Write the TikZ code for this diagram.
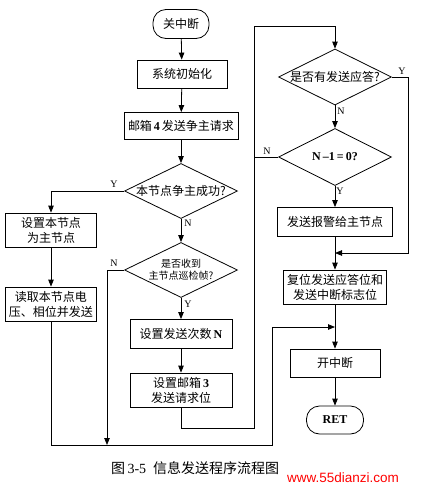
\documentclass[tikz,border=0pt]{standalone}
\usepackage{fontspec}
\setmainfont{Liberation Serif}
\newfontfamily\cjk{Noto Sans CJK SC}
\newfontfamily\wmfont{Liberation Sans}
\usetikzlibrary{shapes.geometric,arrows.meta}
\begin{document}
\begin{tikzpicture}[x=1pt,y=-1pt,
 every node/.style={font=\cjk\fontsize{12}{15}\selectfont, inner sep=0pt, align=center},
 procbox/.style={draw, rectangle, line width=0.8pt},
 term/.style={draw, rectangle, rounded corners=13pt, line width=0.8pt},
 decide/.style={draw, diamond, line width=0.8pt},
 arr/.style={-{Triangle[length=7pt,width=5.5pt]}, line width=0.8pt},
 ln/.style={line width=0.8pt},
 yn/.style={font=\rmfamily\fontsize{10}{12}\selectfont}
]
\useasboundingbox[fill=white] (0,0) rectangle (423,491);

% left column
\node[term, minimum width=56pt, minimum height=29pt] (start) at (181,24) {关中断};
\node[procbox, minimum width=90pt, minimum height=28pt] (init) at (182,74) {系统初始化};
\node[procbox, minimum width=114pt, minimum height=27pt] (req) at (181,126) {邮箱{\rmfamily\bfseries\,4\,}发送争主请求};
\node[decide, minimum width=113pt, minimum height=55pt] (d1) at (181,191) {};
\node (d1t) at (d1) {本节点争主成功?};
\node[procbox, minimum width=91pt, minimum height=34pt] (master) at (51,230) {设置本节点\\为主节点};
\node[procbox, minimum width=91pt, minimum height=34pt] (read) at (51,304) {读取本节点电\\压、相位并发送};
\node[decide, minimum width=113pt, minimum height=55pt] (d2) at (181,270) {};
\node[font=\cjk\fontsize{10}{12}\selectfont] (d2t) at (d2) {是否收到\\主节点巡检帧?};
\node[procbox, minimum width=102pt, minimum height=29pt] (setN) at (181,334) {设置发送次数{\rmfamily\bfseries\,N}};
\node[procbox, minimum width=102pt, minimum height=34pt] (mb3) at (181,390) {设置邮箱{\rmfamily\bfseries\,3}\\发送请求位};

% right column
\node[decide, minimum width=113pt, minimum height=56pt] (d3) at (335,77) {};
\node (d3t) at (d3) {是否有发送应答?};
\node[decide, minimum width=113pt, minimum height=57pt] (d4) at (335,157) {};
\node[font=\rmfamily\bfseries\fontsize{12}{14}\selectfont] (d4t) at (d4) {N\,–1\,=\,0?};
\node[procbox, minimum width=115pt, minimum height=29pt] (alarm) at (335,222) {发送报警给主节点};
\node[procbox, minimum width=103pt, minimum height=34pt] (reset) at (335,287) {复位发送应答位和\\发送中断标志位};
\node[procbox, minimum width=90pt, minimum height=28pt] (open) at (335,363) {开中断};
\node[term, minimum width=57pt, minimum height=28pt, font=\rmfamily\bfseries\fontsize{12}{14}\selectfont] (ret) at (335,420) {RET};

% junction coordinates
\coordinate (jY) at (51,191);
\coordinate (jN2a) at (107,270);
\coordinate (jN2b) at (107,445);
\coordinate (lb1) at (181,428);
\coordinate (lb2) at (254,428);
\coordinate (lt1) at (254,26);
\coordinate (lt2) at (335,26);
\coordinate (jN4) at (254,157);
\coordinate (ry1) at (408,77);
\coordinate (ry2) at (408,253);
\coordinate (ry3) at (335,253);
\coordinate (bb1) at (51,445);
\coordinate (bb2) at (272,445);
\coordinate (bb3) at (272,327);
\coordinate (bb4) at (335,327);

% connectors
\draw[arr] (start) -- (init);
\draw[arr] (init) -- (req);
\draw[arr] (req) -- (d1.north);
\draw[arr] (d1.west) -- (jY) -- (master.north);
\node[yn] (lY1) at (114,184) {Y};
\draw[arr] (master) -- (read);
\draw[arr] (d1.south) -- (d2.north);
\node[yn] (lN1) at (188,223) {N};
\draw[arr] (d2.west) -- (jN2a) -- (jN2b);
\node[yn] (lN2) at (114,263) {N};
\draw[arr] (d2.south) -- (setN.north);
\node[yn] (lY2) at (188,304) {Y};
\draw[arr] (setN) -- (mb3);
\draw[arr] (mb3.south) -- (lb1) -- (lb2) -- (lt1) -- (lt2) -- (d3.north);
\draw[arr] (d3.east) -- (ry1) -- (ry2) -- (ry3);
\node[yn] (lY3) at (402,71) {Y};
\draw[arr] (d3.south) -- (d4.north);
\node[yn] (lN3) at (341,111) {N};
\draw[ln] (d4.west) -- (jN4);
\node[yn] (lN4) at (267,151) {N};
\draw[arr] (d4.south) -- (alarm.north);
\node[yn] (lY4) at (340,191) {Y};
\draw[arr] (alarm) -- (reset);
\draw[arr] (reset) -- (open);
\draw[arr] (read.south) -- (bb1) -- (bb2) -- (bb3) -- (bb4);
\draw[arr] (open) -- (ret);

% caption and watermark
\node[anchor=west, font=\cjk\fontsize{14}{16}\selectfont] (cap) at (111,468) {图\,{\rmfamily 3-5}\enspace 信息发送程序流程图};
\node[anchor=west, font=\wmfont\fontsize{13.5}{15}\selectfont, text=red] (wm) at (287,478) {www.55dianzi.com};
\end{tikzpicture}
\end{document}
